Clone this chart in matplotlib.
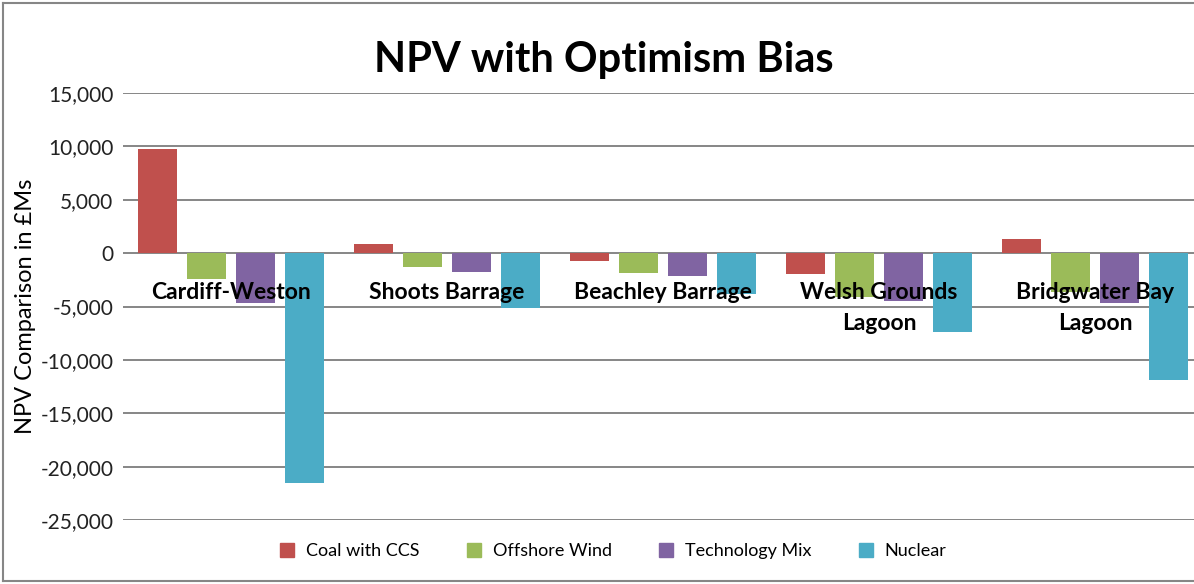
import matplotlib.pyplot as plt
from matplotlib.lines import Line2D
import numpy as np

# values (GBP millions)
sites = ['Cardiff-Weston', 'Shoots Barrage', 'Beachley Barrage',
         'Welsh Grounds\nLagoon', 'Bridgwater Bay\nLagoon']
series = ['Coal with CCS', 'Offshore Wind', 'Technology Mix', 'Nuclear']
coal = [9800, 850, -700, -2000, 1300]
wind = [-2400, -1300, -1900, -4100, -3600]
mix = [-4700, -1800, -2150, -4500, -4700]
nuclear = [-21500, -5100, -3850, -7350, -11900]
yticks = [15000, 10000, 5000, 0, -5000, -10000, -15000, -20000, -25000]

colors = ['#C0504D', '#9BBB59', '#8064A2', '#4BACC6']

plt.rcParams['font.family'] = ['Lato', 'DejaVu Sans']

W, H = 1194, 584
fig = plt.figure(figsize=(W / 100, H / 100), dpi=100)
ax = fig.add_axes([123 / W, 1 - 520 / H, (W - 123) / W, (520 - 93) / H])

x = np.arange(len(sites))
step = 49 / 216
width = 39 / 216
for i, vals in enumerate([coal, wind, mix, nuclear]):
    ax.bar(x + (i - 1.5) * step, vals, width, color=colors[i], label=series[i], zorder=3)

ax.set_xlim(-0.5, 4.5 - 9 / 216)
ax.set_ylim(-25000, 15000)
ax.set_yticks(yticks)
ax.set_yticklabels([f'{v:,}' for v in yticks], fontsize=15, color='#222222')
ax.tick_params(axis='y', length=0, pad=7)
ax.set_xticks([])
ax.grid(axis='y', color='#868686', linewidth=1.4, zorder=1)
ax.set_axisbelow(True)
for s in ax.spines.values():
    s.set_visible(False)

# category labels sit just below the zero line (Excel axis crossing)
for xi, name in zip(x, sites):
    ax.annotate(name, (xi, 0), xytext=(0, -21), textcoords='offset points',
                ha='center', va='top', fontsize=16.5, fontweight='bold',
                linespacing=1.55, zorder=5)

fig.text(604 / W, 1 - 60 / H, 'NPV with Optimism Bias', ha='center', va='center',
         fontsize=30, fontweight='bold')
fig.text(25 / W, 1 - 306 / H, 'NPV Comparison in £Ms', ha='center', va='center',
         rotation=90, fontsize=17)

handles = [Line2D([], [], marker='s', linestyle='none', markersize=10,
                  markerfacecolor=c, markeredgecolor=c) for c in colors]
fig.legend(handles, series, loc='center', bbox_to_anchor=(608 / W, 1 - 551 / H),
           ncol=4, frameon=False, fontsize=13, handletextpad=0.05,
           columnspacing=2.0)

# chart border
border = dict(color='#868686', linewidth=1.5)
fig.add_artist(Line2D([3 / W, 3 / W], [3 / H, 1 - 3 / H], **border))
fig.add_artist(Line2D([3 / W, 1], [1 - 3 / H, 1 - 3 / H], **border))
fig.add_artist(Line2D([3 / W, 1], [3 / H, 3 / H], **border))

fig.savefig('out.png', dpi=100)
